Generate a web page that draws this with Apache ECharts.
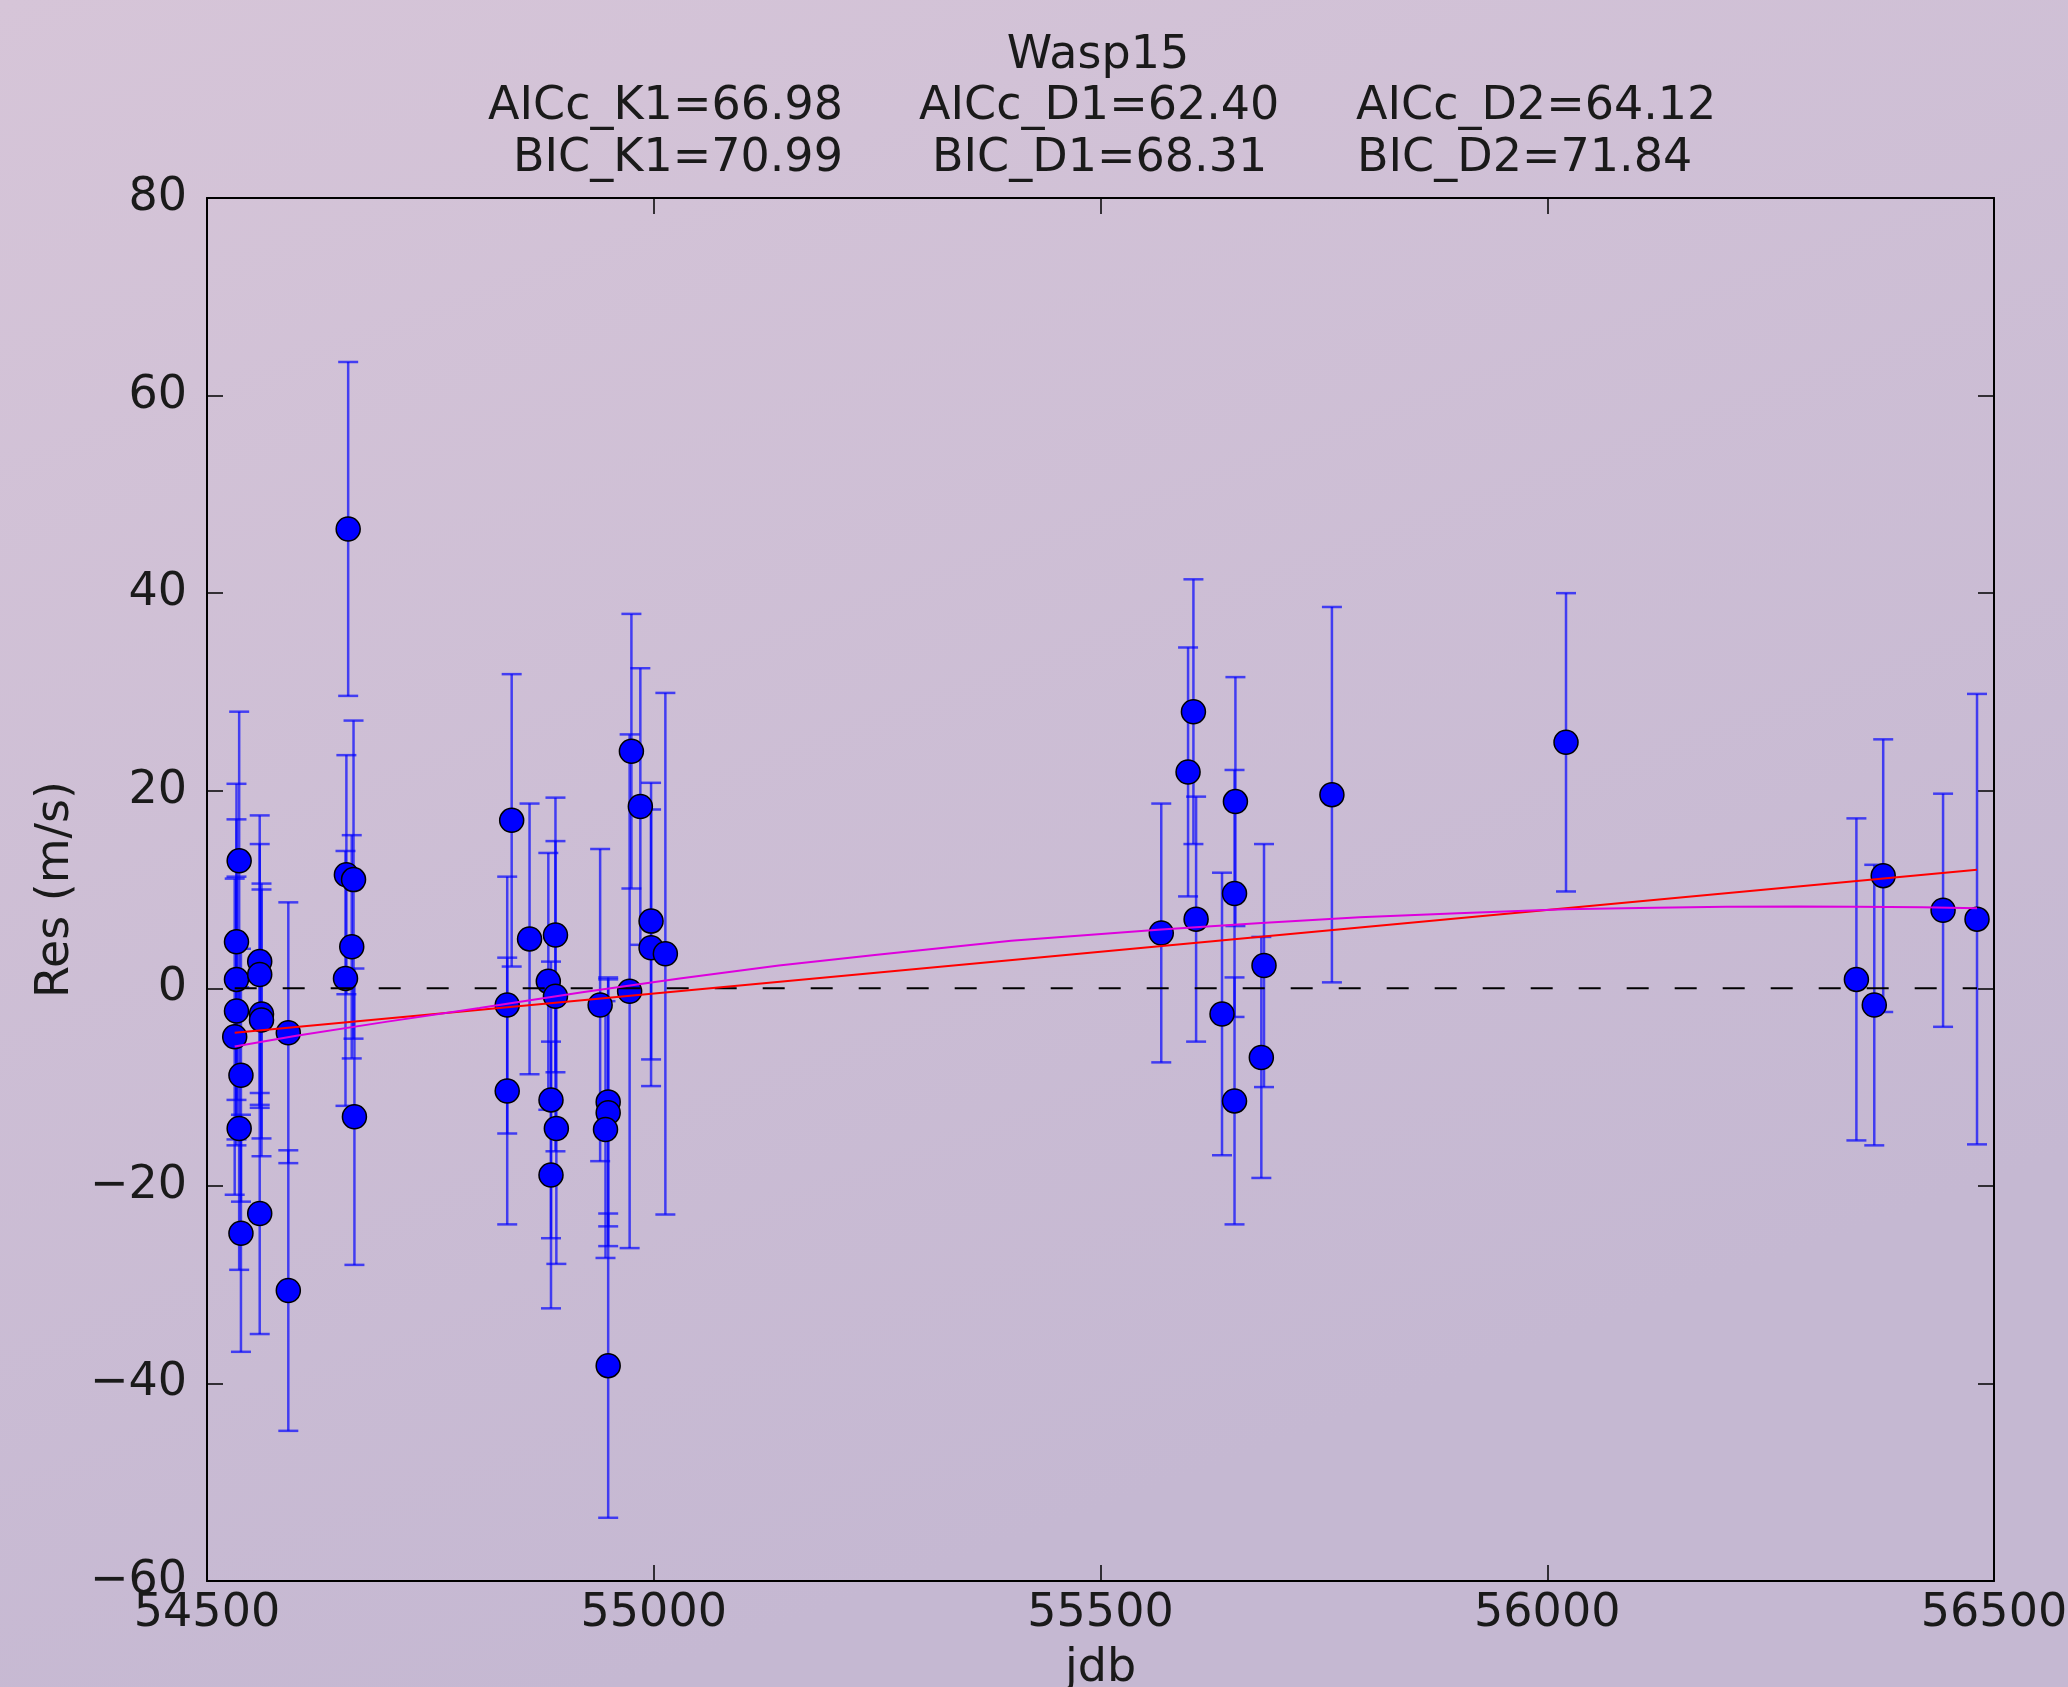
<!DOCTYPE html>
<html>
<head>
<meta charset="utf-8">
<script src="https://cdn.jsdelivr.net/npm/echarts@6/dist/echarts.min.js"></script>
<style>
  html, body { margin: 0; padding: 0; }
  #chart { width: 2068px; height: 1687px; }
</style>
</head>
<body>
<div id="chart"></div>
<script>
// residuals (jdb, m/s) with 1-sigma errors
const jdb = [
  54536, 54533, 54533, 54533, 54531, 54538, 54536, 54538, 54559, 54559,
  54561, 54561, 54559, 54591, 54591,
  54658, 54656, 54664, 54662, 54655, 54665,
  54841, 54836, 54836, 54861, 54882, 54890, 54890, 54885, 54891, 54885,
  54940, 54949, 54949, 54946, 54949, 54975, 54985, 54997, 54997, 55013, 54973,
  55568, 55604, 55598, 55607, 55651, 55650, 55650, 55636, 55683, 55680, 55759,
  56021, 56346, 56366, 56376, 56443, 56481
];
const res = [
  12.9, 4.7, 0.9, -2.3, -4.9, -8.8, -14.2, -24.8, 2.7, 1.4,
  -2.6, -3.2, -22.8, -4.5, -30.6,
  46.5, 11.5, 11.0, 4.2, 1.0, -13.0,
  17.0, -1.7, -10.4, 5.0, 0.7, 5.4, -0.8, -11.3, -14.2, -18.9,
  -1.7, -11.5, -12.6, -14.3, -38.2, 24.0, 18.4, 6.8, 4.1, 3.5, -0.3,
  5.6, 28.0, 21.9, 7.0, 18.9, 9.6, -11.4, -2.6, 2.3, -7.0, 19.6,
  24.9, 0.9, -1.7, 11.4, 7.9, 7.0
];
const err = [
  15.1, 16.0, 16.2, 13.6, 16.0, 12.8, 14.3, 12.0, 14.8, 13.2,
  12.6, 13.8, 12.2, 13.2, 14.2,
  16.9, 12.1, 16.1, 11.3, 12.9, 15.0,
  14.8, 13.0, 13.5, 13.7, 13.0, 13.9, 15.7, 14.0, 13.7, 13.5,
  15.8, 12.6, 13.5, 13.0, 15.4, 13.9, 14.0, 14.0, 14.0, 26.4, 26.0,
  13.1, 13.4, 12.6, 12.4, 12.6, 12.5, 12.5, 14.3, 12.3, 12.2, 19.0,
  15.1, 16.3, 14.2, 13.8, 11.8, 22.8
];

// model curves
const redJdb = [54531, 56481];
const redRes = [-4.5, 12.0];
const magJdb = [54531, 54600, 54700, 54805, 54920, 55029, 55140, 55250, 55400, 55568,
                55680, 55790, 55900, 56020, 56120, 56200, 56280, 56345, 56420, 56481];
const magRes = [-5.9, -4.8, -3.4, -2.0, -0.4, 1.0, 2.3, 3.4, 4.8, 5.95,
                6.6, 7.2, 7.6, 8.0, 8.15, 8.25, 8.28, 8.25, 8.2, 8.1];
const zeroJdb = [54531, 56481];
const zeroRes = [0, 0];

const titleText = "Wasp15";
const aiccLabels = ["AICc_K1=66.98", "AICc_D1=62.40", "AICc_D2=64.12"];
const bicLabels = ["BIC_K1=70.99", "BIC_D1=68.31", "BIC_D2=71.84"];

const FONT = "DejaVu Sans";
const INK = "#1a1a1a";
const minus = v => String(v).replace("-", "\u2212");

const chart = echarts.init(document.getElementById("chart"));

function errorBar(params, api) {
  const x = api.value(0);
  const lo = api.coord([x, api.value(1)]);
  const hi = api.coord([x, api.value(2)]);
  const cap = 10;
  const style = { stroke: "rgba(0,0,255,0.68)", lineWidth: 2.5 };
  return {
    type: "group",
    children: [
      { type: "line", shape: { x1: lo[0], y1: lo[1], x2: hi[0], y2: hi[1] }, style },
      { type: "line", shape: { x1: lo[0] - cap, y1: lo[1], x2: lo[0] + cap, y2: lo[1] }, style },
      { type: "line", shape: { x1: hi[0] - cap, y1: hi[1], x2: hi[0] + cap, y2: hi[1] }, style },
    ],
  };
}

const frameLine = { onZero: false, lineStyle: { color: "#000", width: 2 } };
const innerTick = { inside: true, length: 16, lineStyle: { color: "#000", width: 1.5 } };

function textEl(text, x, y, align) {
  return {
    type: "text",
    x: x,
    y: y,
    style: { text, fontSize: 46, fontFamily: FONT, fill: INK, align, verticalAlign: "middle" },
  };
}

const option = {
  animation: false,
  backgroundColor: new echarts.graphic.LinearGradient(0, 0, 0.3, 1, [
    { offset: 0, color: "#d6c5d8" },
    { offset: 1, color: "#c5b8d2" },
  ]),
  textStyle: { fontFamily: FONT },
  grid: { left: 207, right: 74, top: 198, bottom: 106, containLabel: false, outerBoundsMode: "none" },
  graphic: [
    textEl(titleText, 1098, 56, "center"),
    textEl(aiccLabels[0], 488, 107, "left"),
    textEl(aiccLabels[1], 919, 107, "left"),
    textEl(aiccLabels[2], 1356, 107, "left"),
    textEl(bicLabels[0], 513, 159, "left"),
    textEl(bicLabels[1], 932, 159, "left"),
    textEl(bicLabels[2], 1357, 159, "left"),
  ],
  xAxis: [
    {
      type: "value", position: "bottom", min: 54500, max: 56500, interval: 500,
      axisLine: frameLine, axisTick: innerTick, splitLine: { show: false },
      axisLabel: { fontSize: 46, color: INK, margin: 10, formatter: minus },
      name: "jdb", nameLocation: "middle", nameGap: 65,
      nameTextStyle: { fontSize: 46, color: INK },
    },
    {
      type: "value", position: "top", min: 54500, max: 56500, interval: 500,
      axisLine: frameLine, axisTick: innerTick, splitLine: { show: false },
      axisLabel: { show: false },
    },
  ],
  yAxis: [
    {
      type: "value", position: "left", min: -60, max: 80, interval: 20,
      axisLine: frameLine, axisTick: innerTick, splitLine: { show: false },
      axisLabel: { fontSize: 46, color: INK, margin: 20, formatter: minus },
      name: "Res (m/s)", nameLocation: "middle", nameGap: 128,
      nameTextStyle: { fontSize: 46, color: INK },
    },
    {
      type: "value", position: "right", min: -60, max: 80, interval: 20,
      axisLine: frameLine, axisTick: innerTick, splitLine: { show: false },
      axisLabel: { show: false },
    },
  ],
  series: [
    {
      type: "custom",
      renderItem: errorBar,
      data: jdb.map((x, i) => [x, res[i] - err[i], res[i] + err[i]]),
      encode: { x: 0, y: [1, 2] },
      z: 1,
    },
    {
      type: "scatter",
      data: jdb.map((x, i) => [x, res[i]]),
      symbolSize: 24,
      itemStyle: { color: "#0000ff", borderColor: "#000", borderWidth: 1.5, opacity: 1 },
      z: 2,
    },
    {
      type: "line",
      data: zeroJdb.map((x, i) => [x, zeroRes[i]]),
      showSymbol: false,
      lineStyle: { color: "#000", width: 2, type: [22, 26] },
      z: 3,
    },
    {
      type: "line",
      data: redJdb.map((x, i) => [x, redRes[i]]),
      showSymbol: false,
      lineStyle: { color: "#ff0000", width: 2 },
      z: 3,
    },
    {
      type: "line",
      data: magJdb.map((x, i) => [x, magRes[i]]),
      showSymbol: false,
      lineStyle: { color: "#dd00dd", width: 2 },
      z: 3,
    },
  ],
};

chart.setOption(option);
window.addEventListener("resize", () => chart.resize());
</script>
</body>
</html>
